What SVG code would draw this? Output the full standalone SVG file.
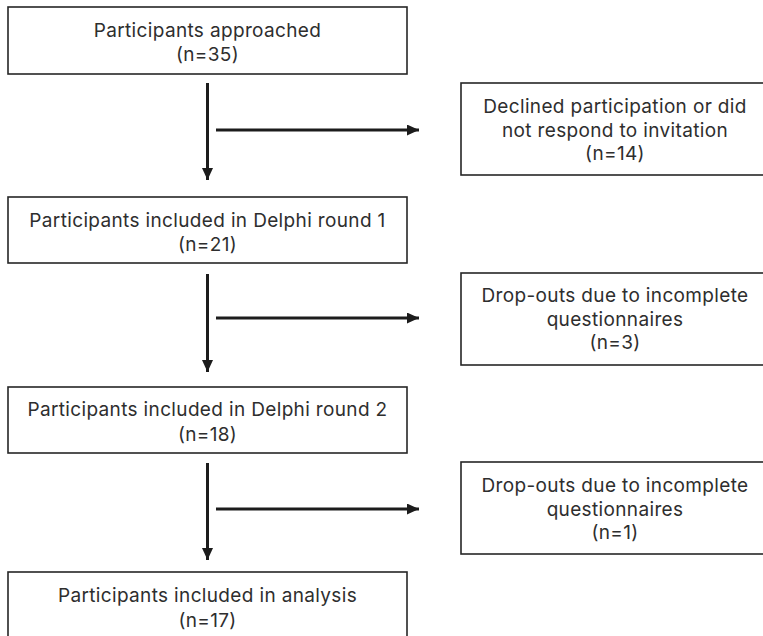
<svg xmlns="http://www.w3.org/2000/svg" width="763" height="636" viewBox="0 0 763 636">
  <style>
    .box { fill: #ffffff; stroke: #262626; stroke-width: 1.6; }
    .label { font-family: "Inter", "Open Sans", "Liberation Sans", sans-serif; font-size: 19px; letter-spacing: 0.35px; fill: #2e2e2e; text-anchor: middle; }
    .flow { stroke: #1c1c1c; stroke-width: 3; fill: none; }
  </style>
  <defs>
    <marker id="arrow" viewBox="0 0 12 11" refX="12" refY="5.5" markerWidth="12" markerHeight="11" markerUnits="userSpaceOnUse" orient="auto">
      <path d="M0,0 L12,5.5 L0,11 Z" fill="#1c1c1c"/>
    </marker>
  </defs>
  <rect width="763" height="636" fill="#ffffff"/>

  <g id="connectors">
    <line class="flow" x1="207.5" y1="83" x2="207.5" y2="180" marker-end="url(#arrow)"/>
    <line class="flow" x1="216" y1="130" x2="419" y2="130" marker-end="url(#arrow)"/>
    <line class="flow" x1="207.5" y1="274" x2="207.5" y2="372" marker-end="url(#arrow)"/>
    <line class="flow" x1="216" y1="318" x2="419" y2="318" marker-end="url(#arrow)"/>
    <line class="flow" x1="207.5" y1="463" x2="207.5" y2="560" marker-end="url(#arrow)"/>
    <line class="flow" x1="216" y1="509" x2="419" y2="509" marker-end="url(#arrow)"/>
  </g>

  <g id="approached">
    <rect class="box" x="8" y="7" width="399" height="67"/>
    <text class="label" x="207.5" y="37">Participants approached</text>
    <text class="label" x="207.5" y="61">(n=35)</text>
  </g>

  <g id="declined">
    <rect class="box" x="461" y="83" width="310" height="92"/>
    <text class="label" x="615" y="113">Declined participation or did</text>
    <text class="label" x="615" y="137">not respond to invitation</text>
    <text class="label" x="615" y="160">(n=14)</text>
  </g>

  <g id="round1">
    <rect class="box" x="8" y="197" width="399" height="66"/>
    <text class="label" x="207.5" y="227">Participants included in Delphi round 1</text>
    <text class="label" x="207.5" y="251">(n=21)</text>
  </g>

  <g id="dropout1">
    <rect class="box" x="461" y="273" width="310" height="92"/>
    <text class="label" x="615" y="302">Drop-outs due to incomplete</text>
    <text class="label" x="615" y="326">questionnaires</text>
    <text class="label" x="615" y="349">(n=3)</text>
  </g>

  <g id="round2">
    <rect class="box" x="8" y="387" width="399" height="66"/>
    <text class="label" x="207.5" y="416">Participants included in Delphi round 2</text>
    <text class="label" x="207.5" y="441">(n=18)</text>
  </g>

  <g id="dropout2">
    <rect class="box" x="461" y="462" width="310" height="92"/>
    <text class="label" x="615" y="492">Drop-outs due to incomplete</text>
    <text class="label" x="615" y="516">questionnaires</text>
    <text class="label" x="615" y="539">(n=1)</text>
  </g>

  <g id="analysis">
    <rect class="box" x="8" y="572" width="399" height="80"/>
    <text class="label" x="207.5" y="602">Participants included in analysis</text>
    <text class="label" x="207.5" y="627">(n=17)</text>
  </g>
</svg>
